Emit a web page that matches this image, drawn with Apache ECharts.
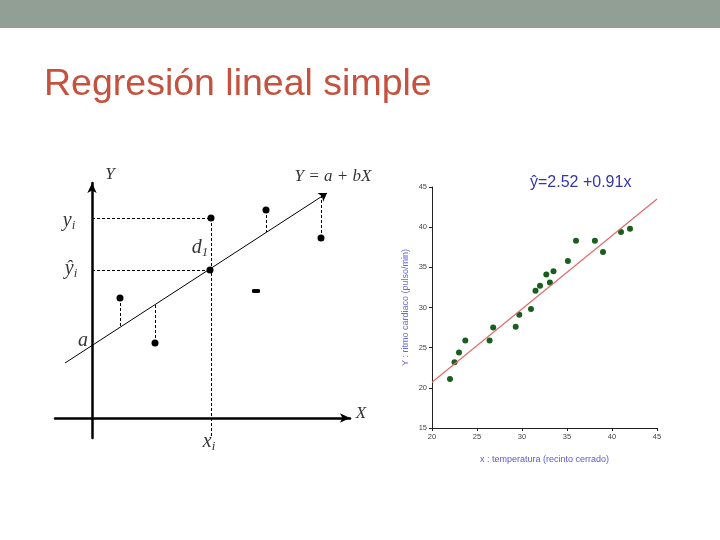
<!DOCTYPE html>
<html>
<head>
<meta charset="utf-8">
<script src="https://cdn.jsdelivr.net/npm/echarts@6/dist/echarts.min.js"></script>
<style>
  html, body { margin: 0; padding: 0; background: #fff; }
  #chart { width: 720px; height: 540px; }
</style>
</head>
<body>
<div id="chart"></div>
<script>
// --- right chart: temperatura vs ritmo cardiaco ---
const tempX = [22.0, 22.5, 23.0, 23.7, 26.4, 26.8, 29.3, 29.7, 31.0, 31.5, 32.0, 32.7, 33.1, 33.5, 35.1, 36.0, 38.1, 39.0, 41.0, 42.0];
const pulseY = [21.1, 23.2, 24.4, 25.9, 25.9, 27.5, 27.6, 29.1, 29.8, 32.1, 32.7, 34.1, 33.1, 34.5, 35.8, 38.3, 38.3, 36.9, 39.4, 39.8];
const fitX = [20, 45];
const fitY = [20.7, 43.5];

// --- left chart: esquema de la regresión ---
const obsX = [2.8, 6.3, 11.9, 17.4, 22.9];
const obsY = [12.0, 7.5, 20.0, 20.8, 18.0];
const hatPoint = [11.8, 14.8];
const flatPoint = [16.4, 12.7];
const regLineX = [-2.7, 23.5];
const regLineY = [5.5, 22.5];
// [x, y del punto, y en la recta]
const residuals = [[2.8, 12.0, 9.0], [6.3, 7.5, 11.3], [11.9, 20.0, -2.0], [17.4, 20.8, 18.6], [22.9, 18.0, 22.3]];
// [y, x final] lineas guia horizontales
const guides = [[20.0, 11.9], [14.8, 11.8]];
// etiquetas [x, y, texto]
const diagramLabels = [
  [1.8, 24.3, '{i|Y}'],
  [24.1, 24.1, '{i|Y = a + bX}'],
  [26.9, 0.4, '{i|X}'],
  [-2.3, 19.7, '{b|y}{s|i}'],
  [-2.1, 14.9, '{b|ŷ}{s|i}'],
  [10.8, 17.0, '{b|d}{s|1}'],
  [11.7, -2.4, '{b|x}{s|i}'],
  [-0.9, 7.7, '{b|a}']
];

const chart = echarts.init(document.getElementById('chart'));

const serif = 'Liberation Serif';
const narrow = 'Liberation Sans Narrow, Liberation Sans, sans-serif';

chart.setOption({
  animation: false,
  backgroundColor: '#ffffff',
  title: {
    text: 'Regresión lineal simple',
    left: 44,
    top: 66,
    padding: 0,
    textStyle: { fontFamily: 'Liberation Sans', fontWeight: 'normal', fontSize: 37.5, color: '#c5523e' }
  },
  graphic: [
    { type: 'rect', shape: { x: 0, y: 0, width: 720, height: 28 }, style: { fill: '#919f95' } },
    {
      type: 'text', left: 530, top: 175,
      style: { text: 'ŷ=2.52 +0.91x', fontFamily: narrow, fontSize: 16, fill: '#3535ad' }
    }
  ],
  grid: [
    { left: 55, top: 183, width: 295, height: 255 },
    { left: 432, right: 63, top: 187, bottom: 112 }
  ],
  xAxis: [
    {
      gridIndex: 0, type: 'value', min: -3.7, max: 25.8,
      axisLine: { onZero: true, symbol: ['none', 'arrow'], symbolSize: [7, 10], lineStyle: { color: '#000', width: 2.5 } },
      axisTick: { show: false }, axisLabel: { show: false }, splitLine: { show: false }
    },
    {
      gridIndex: 1, type: 'value', min: 20, max: 45, interval: 5,
      name: 'x : temperatura (recinto cerrado)', nameLocation: 'middle', nameGap: 27,
      nameTextStyle: { fontFamily: narrow, fontSize: 9, color: '#5a5ad0' },
      axisLine: { onZero: false, lineStyle: { color: '#222', width: 1 } },
      axisTick: { show: true, length: 3, lineStyle: { color: '#222' } },
      axisLabel: { fontFamily: narrow, fontSize: 7.5, color: '#444', margin: 5 },
      splitLine: { show: false }
    }
  ],
  yAxis: [
    {
      gridIndex: 0, type: 'value', min: -2.0, max: 23.5,
      axisLine: { onZero: true, symbol: ['none', 'arrow'], symbolSize: [7, 10], lineStyle: { color: '#000', width: 2.5 } },
      axisTick: { show: false }, axisLabel: { show: false }, splitLine: { show: false }
    },
    {
      gridIndex: 1, type: 'value', min: 15, max: 45, interval: 5,
      name: 'Y : ritmo cardiaco (pulso/min)', nameLocation: 'middle', nameGap: 22,
      nameTextStyle: { fontFamily: narrow, fontSize: 9, color: '#6a6ad8' },
      axisLine: { onZero: false, lineStyle: { color: '#222', width: 1 } },
      axisTick: { show: true, length: 3, lineStyle: { color: '#222' } },
      axisLabel: { fontFamily: narrow, fontSize: 7.5, color: '#444', margin: 5 },
      splitLine: { show: false }
    }
  ],
  series: [
    // esquema
    {
      type: 'lines', coordinateSystem: 'cartesian2d', xAxisIndex: 0, yAxisIndex: 0,
      symbol: ['none', 'arrow'], symbolSize: 8,
      lineStyle: { color: '#000', width: 1, opacity: 1 },
      data: [{ coords: [[regLineX[0], regLineY[0]], [regLineX[1], regLineY[1]]] }]
    },
    {
      type: 'lines', coordinateSystem: 'cartesian2d', xAxisIndex: 0, yAxisIndex: 0,
      lineStyle: { color: '#000', width: 1, type: [3, 2], opacity: 1 },
      data: residuals.map(r => ({ coords: [[r[0], r[1]], [r[0], r[2]]] }))
        .concat(guides.map(g => ({ coords: [[0, g[0]], [g[1], g[0]]] })))
    },
    {
      type: 'scatter', xAxisIndex: 0, yAxisIndex: 0, symbolSize: 7,
      itemStyle: { color: '#000', opacity: 1 },
      data: obsX.map((x, i) => [x, obsY[i]]).concat([hatPoint])
    },
    {
      type: 'scatter', xAxisIndex: 0, yAxisIndex: 0, symbol: 'roundRect', symbolSize: [8, 4],
      itemStyle: { color: '#000', opacity: 1 },
      data: [flatPoint]
    },
    {
      type: 'scatter', xAxisIndex: 0, yAxisIndex: 0, symbolSize: 0, clip: false,
      silent: true,
      label: {
        show: true, position: 'inside',
        formatter: p => p.data[2],
        rich: {
          i: { fontFamily: serif, fontStyle: 'italic', fontSize: 17, color: '#000' },
          b: { fontFamily: serif, fontStyle: 'italic', fontSize: 20, color: '#000' },
          s: { fontFamily: serif, fontStyle: 'italic', fontSize: 13, color: '#000', padding: [10, 0, 0, 0] }
        }
      },
      data: diagramLabels
    },
    // grafico de datos
    {
      type: 'line', xAxisIndex: 1, yAxisIndex: 1, showSymbol: false,
      lineStyle: { color: '#e06a6a', width: 1.2 },
      data: fitX.map((x, i) => [x, fitY[i]])
    },
    {
      type: 'scatter', xAxisIndex: 1, yAxisIndex: 1, symbolSize: 6,
      itemStyle: { color: '#1a5e1e', opacity: 1 },
      data: tempX.map((x, i) => [x, pulseY[i]])
    }
  ]
});
</script>
</body>
</html>
